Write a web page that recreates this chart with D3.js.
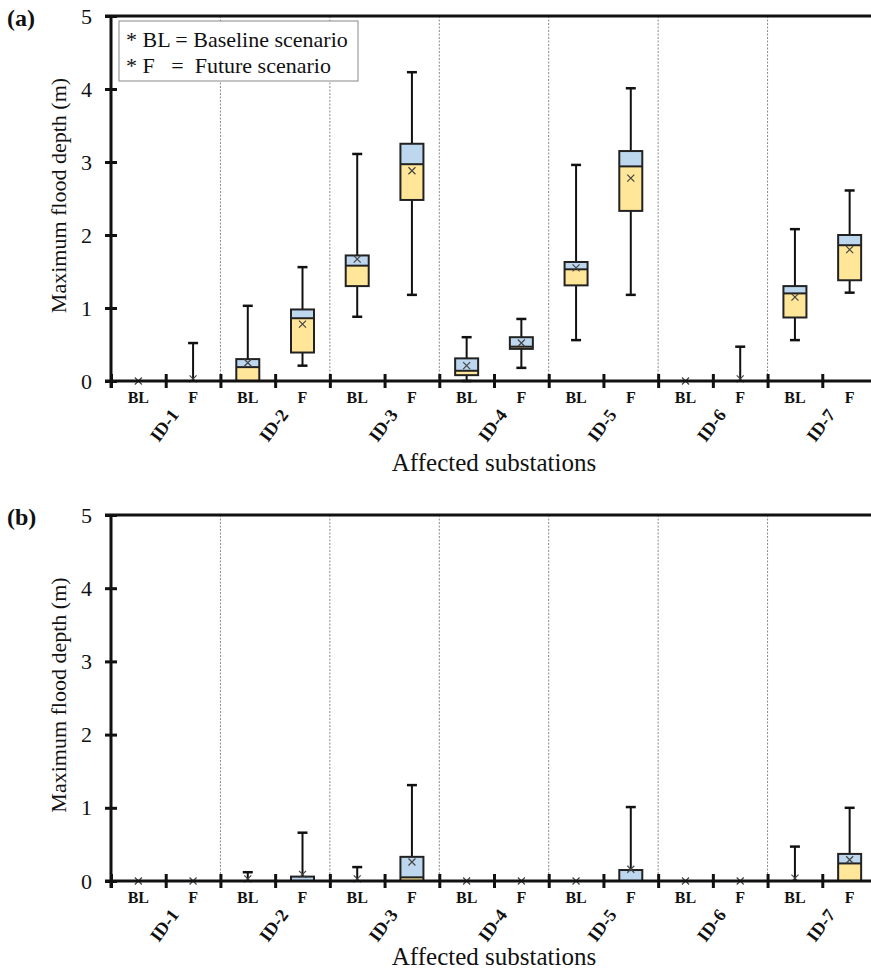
<!DOCTYPE html>
<html><head><meta charset="utf-8">
<script src="https://cdn.jsdelivr.net/npm/d3@7"></script>
<style>
body{margin:0;background:#fff;}
svg{display:block;font-family:"Liberation Serif","Times New Roman",serif;}
</style></head>
<body><svg id="chart" width="871" height="970"></svg>
<script>
const substations = ["ID-1","ID-2","ID-3","ID-4","ID-5","ID-6","ID-7"];
const scenarios = ["BL","F"];
const yTicks = [0,1,2,3,4,5];
// per slot: ID-1 BL, ID-1 F, ID-2 BL, ... ID-7 F
const aMin  = [0,0,0,0.21,0.88,1.18,0,0.18,0.56,1.18,0,0,0.56,1.21];
const aQ1   = [0,0,0,0.39,1.30,2.48,0.08,0.44,1.31,2.33,0,0,0.87,1.38];
const aMed  = [0,0,0.19,0.86,1.58,2.97,0.14,0.47,1.53,2.94,0,0,1.20,1.86];
const aQ3   = [0,0,0.30,0.98,1.72,3.25,0.31,0.60,1.63,3.15,0,0,1.30,2.00];
const aMax  = [0,0.52,1.03,1.56,3.11,4.23,0.60,0.85,2.96,4.01,0,0.47,2.08,2.61];
const aMean = [0,0.03,0.25,0.78,1.67,2.88,0.21,0.52,1.55,2.78,0,0.03,1.15,1.80];

const bMin  = [0,0,0,0,0,0,0,0,0,0,0,0,0,0];
const bQ1   = [0,0,0,0,0,0,0,0,0,0,0,0,0,0];
const bMed  = [0,0,0,0,0,0.05,0,0,0,0,0,0,0,0.24];
const bQ3   = [0,0,0,0.06,0,0.33,0,0,0,0.15,0,0,0,0.37];
const bMax  = [0,0,0.12,0.66,0.19,1.31,0,0,0,1.01,0,0,0.47,1.00];
const bMean = [0,0,0.03,0.09,0.03,0.26,0,0,0,0.16,0,0,0.04,0.29];

const svg = d3.select("#chart");
const slots = d3.range(substations.length*scenarios.length);
const xLeft = 111, xRight = 877;
const x = d3.scaleBand().domain(slots).range([xLeft,xRight]);
const xb = d3.scaleLinear().domain([0,slots.length]).range([xLeft,xRight]);

function panel(tag, top, zero, mn,q1,md,q3,mx,mean, labOff, titleOff, legend){
  const y = d3.scaleLinear().domain([0,5]).range([zero,top]);
  const g = svg.append("g");
  // dotted separators
  g.selectAll("line.sep").data(d3.range(2,slots.length,2)).join("line")
    .attr("x1",d=>xb(d)).attr("x2",d=>xb(d)).attr("y1",y(5)).attr("y2",y(0))
    .attr("stroke","#8a8a8a").attr("stroke-width",1).attr("stroke-dasharray","2,1.5");
  // top border
  g.append("line").attr("x1",xLeft-6).attr("x2",871).attr("y1",y(5)).attr("y2",y(5))
    .attr("stroke","#111").attr("stroke-width",3);
  const bw = 23, cap = 10;
  slots.forEach(i=>{
    const cx = x(i)+x.bandwidth()/2;
    if(mx[i]>q3[i]){
      g.append("line").attr("x1",cx).attr("x2",cx).attr("y1",y(q3[i])).attr("y2",y(mx[i])).attr("stroke","#111").attr("stroke-width",2);
      g.append("line").attr("x1",cx-cap/2).attr("x2",cx+cap/2).attr("y1",y(mx[i])).attr("y2",y(mx[i])).attr("stroke","#111").attr("stroke-width",2.5);
    }
    if(mn[i]<q1[i]){
      g.append("line").attr("x1",cx).attr("x2",cx).attr("y1",y(q1[i])).attr("y2",y(mn[i])).attr("stroke","#111").attr("stroke-width",2);
      g.append("line").attr("x1",cx-cap/2).attr("x2",cx+cap/2).attr("y1",y(mn[i])).attr("y2",y(mn[i])).attr("stroke","#111").attr("stroke-width",2.5);
    }
    if(q3[i]>q1[i]){
      g.append("rect").attr("x",cx-bw/2).attr("width",bw).attr("y",y(md[i])).attr("height",y(q1[i])-y(md[i]))
        .attr("fill","#ffe699");
      g.append("rect").attr("x",cx-bw/2).attr("width",bw).attr("y",y(q3[i])).attr("height",y(md[i])-y(q3[i]))
        .attr("fill","#bdd7ee");
      g.append("line").attr("x1",cx-bw/2).attr("x2",cx+bw/2).attr("y1",y(md[i])).attr("y2",y(md[i])).attr("stroke","#222").attr("stroke-width",2);
      g.append("rect").attr("x",cx-bw/2).attr("width",bw).attr("y",y(q3[i])).attr("height",y(q1[i])-y(q3[i]))
        .attr("fill","none").attr("stroke","#222").attr("stroke-width",2);
    }
    const my = y(mean[i]), s=3.5;
    g.append("path").attr("d",`M${cx-s},${my-s}L${cx+s},${my+s}M${cx-s},${my+s}L${cx+s},${my-s}`)
      .attr("stroke","#444").attr("stroke-width",1.2).attr("fill","none");
  });
  // y axis
  const ya = g.append("g").attr("transform",`translate(${xLeft},0)`)
    .call(d3.axisLeft(y).tickValues(yTicks).tickFormat(d3.format("d")).tickSize(6).tickPadding(13));
  ya.select(".domain").attr("stroke","#111").attr("stroke-width",3).attr("d",`M0,${y(5)}V${y(0)+7}`);
  ya.selectAll(".tick line").attr("x1",-6).attr("x2",6).attr("stroke","#111").attr("stroke-width",3);
  ya.selectAll(".tick text").attr("font-size",22).attr("font-family","Liberation Serif").attr("fill","#111");
  // x axis
  const xa = g.append("g").attr("transform",`translate(0,${y(0)})`)
    .call(d3.axisBottom(xb).tickValues(d3.range(slots.length+1)).tickFormat("").tickSize(7));
  xa.select(".domain").attr("stroke","#111").attr("stroke-width",3).attr("d",`M${xLeft-6},0H${871}`);
  xa.selectAll(".tick line").attr("y1",-7).attr("y2",7).attr("stroke","#111").attr("stroke-width",3);
  // BL / F labels
  g.selectAll("text.sc").data(slots).join("text")
    .attr("x",i=>x(i)+x.bandwidth()/2).attr("y",y(0)+labOff)
    .attr("text-anchor","middle").attr("font-weight","bold").attr("font-size",16).attr("fill","#111")
    .text(i=>scenarios[i%2]);
  // ID labels
  g.selectAll("text.id").data(substations).join("text")
    .attr("transform",(d,k)=>`translate(${xb(2*k+1)+14},${y(0)+labOff+12}) rotate(-53)`)
    .attr("text-anchor","end").attr("font-weight","bold").attr("font-size",18).attr("fill","#111")
    .text(d=>d);
  // x title
  g.append("text").attr("x",494).attr("y",y(0)+titleOff).attr("text-anchor","middle")
    .attr("font-size",25).attr("fill","#111").text("Affected substations");
  // y title
  g.append("text").attr("transform",`translate(66,${(y(0)+y(5))/2-3}) rotate(-90)`)
    .attr("text-anchor","middle").attr("font-size",22).attr("fill","#111").text("Maximum flood depth (m)");
  // tag
  g.append("text").attr("x",7).attr("y",y(5)+10).attr("font-weight","bold").attr("font-size",24).attr("fill","#111").text(tag);
  if(legend){
    g.append("rect").attr("x",119).attr("y",y(5)+5).attr("width",239).attr("height",60)
      .attr("fill","#fff").attr("stroke","#888").attr("stroke-width",1);
    g.append("text").attr("x",126).attr("y",y(5)+31).attr("font-size",22).attr("fill","#111")
      .text("* BL = Baseline scenario");
    g.append("text").attr("x",126).attr("y",y(5)+57).attr("font-size",22).attr("fill","#111")
      .style("white-space","pre").text("* F   =  Future scenario");
  }
}
panel("(a)",16,381,aMin,aQ1,aMed,aQ3,aMax,aMean,22,90,true);
panel("(b)",515,881,bMin,bQ1,bMed,bQ3,bMax,bMean,22,84,false);
</script></body></html>
